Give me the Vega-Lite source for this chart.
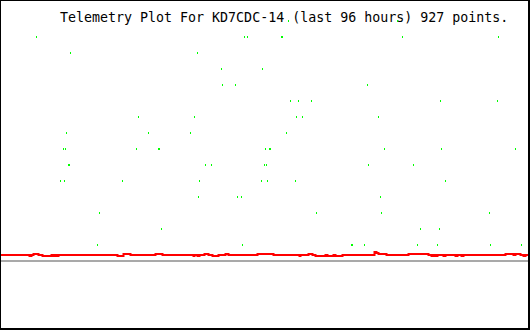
{
  "$schema": "https://vega.github.io/schema/vega-lite/v6.json",
  "width": 530,
  "height": 330,
  "autosize": {"type": "fit", "contains": "padding"},
  "padding": {"left": 1, "top": 1, "right": 2, "bottom": 2},
  "background": "#000000",
  "view": {"fill": "#ffffff", "stroke": null},
  "datasets": {
    "green": [
      {"t": 288, "v": 15}, {"t": 397, "v": 15},
      {"t": 36, "v": 14}, {"t": 244, "v": 14}, {"t": 247, "v": 14}, {"t": 281, "v": 14}, {"t": 282, "v": 14}, {"t": 402, "v": 14}, {"t": 498, "v": 14},
      {"t": 70, "v": 13}, {"t": 197, "v": 13},
      {"t": 221, "v": 12}, {"t": 262, "v": 12},
      {"t": 222, "v": 11}, {"t": 235, "v": 11}, {"t": 367, "v": 11},
      {"t": 290, "v": 10}, {"t": 298, "v": 10}, {"t": 311, "v": 10}, {"t": 440, "v": 10}, {"t": 497, "v": 10},
      {"t": 138, "v": 9}, {"t": 194, "v": 9}, {"t": 296, "v": 9}, {"t": 302, "v": 9}, {"t": 378, "v": 9},
      {"t": 66, "v": 8}, {"t": 148, "v": 8}, {"t": 190, "v": 8}, {"t": 286, "v": 8},
      {"t": 63, "v": 7}, {"t": 65, "v": 7}, {"t": 136, "v": 7}, {"t": 158, "v": 7}, {"t": 159, "v": 7}, {"t": 265, "v": 7}, {"t": 269, "v": 7}, {"t": 270, "v": 7}, {"t": 384, "v": 7}, {"t": 441, "v": 7}, {"t": 515, "v": 7},
      {"t": 68, "v": 6}, {"t": 69, "v": 6}, {"t": 205, "v": 6}, {"t": 211, "v": 6}, {"t": 264, "v": 6}, {"t": 266, "v": 6}, {"t": 368, "v": 6}, {"t": 413, "v": 6},
      {"t": 60, "v": 5}, {"t": 64, "v": 5}, {"t": 122, "v": 5}, {"t": 199, "v": 5}, {"t": 261, "v": 5}, {"t": 267, "v": 5}, {"t": 295, "v": 5}, {"t": 445, "v": 5},
      {"t": 198, "v": 4}, {"t": 237, "v": 4}, {"t": 241, "v": 4}, {"t": 380, "v": 4},
      {"t": 99, "v": 3}, {"t": 316, "v": 3}, {"t": 381, "v": 3}, {"t": 489, "v": 3},
      {"t": 161, "v": 2}, {"t": 420, "v": 2}, {"t": 439, "v": 2},
      {"t": 97, "v": 1}, {"t": 242, "v": 1}, {"t": 351, "v": 1}, {"t": 352, "v": 1}, {"t": 364, "v": 1}, {"t": 417, "v": 1}, {"t": 437, "v": 1}, {"t": 490, "v": 1}, {"t": 521, "v": 1}
    ],
    "red": [
      {"t": 0, "v": 0.375}, {"t": 29, "v": 0.3125}, {"t": 31, "v": 0.375}, {"t": 33, "v": 0.4375}, {"t": 38, "v": 0.375},
      {"t": 42, "v": 0.3125}, {"t": 51, "v": 0.375}, {"t": 53, "v": 0.3125}, {"t": 55, "v": 0.375}, {"t": 57, "v": 0.3125},
      {"t": 58, "v": 0.375}, {"t": 117, "v": 0.3125}, {"t": 123, "v": 0.4375}, {"t": 130, "v": 0.375}, {"t": 155, "v": 0.4375},
      {"t": 162, "v": 0.375}, {"t": 193, "v": 0.3125}, {"t": 194, "v": 0.375}, {"t": 197, "v": 0.3125}, {"t": 199, "v": 0.375},
      {"t": 204, "v": 0.4375}, {"t": 208, "v": 0.375}, {"t": 212, "v": 0.3125}, {"t": 218, "v": 0.375}, {"t": 225, "v": 0.4375},
      {"t": 228, "v": 0.375}, {"t": 257, "v": 0.4375}, {"t": 273, "v": 0.375}, {"t": 299, "v": 0.3125}, {"t": 300, "v": 0.375},
      {"t": 308, "v": 0.4375}, {"t": 312, "v": 0.375}, {"t": 315, "v": 0.3125}, {"t": 325, "v": 0.375}, {"t": 327, "v": 0.3125},
      {"t": 333, "v": 0.375}, {"t": 335, "v": 0.3125}, {"t": 342, "v": 0.375}, {"t": 374, "v": 0.5625}, {"t": 376, "v": 0.5},
      {"t": 378, "v": 0.4375}, {"t": 386, "v": 0.375}, {"t": 408, "v": 0.4375}, {"t": 428, "v": 0.375}, {"t": 431, "v": 0.3125},
      {"t": 433, "v": 0.375}, {"t": 435, "v": 0.3125}, {"t": 437, "v": 0.375}, {"t": 443, "v": 0.3125}, {"t": 445, "v": 0.375},
      {"t": 455, "v": 0.3125}, {"t": 457, "v": 0.375}, {"t": 461, "v": 0.3125}, {"t": 463, "v": 0.375}, {"t": 505, "v": 0.4375},
      {"t": 513, "v": 0.375}, {"t": 515, "v": 0.4375}, {"t": 520, "v": 0.375}, {"t": 523, "v": 0.3125}, {"t": 525, "v": 0.375},
      {"t": 529, "v": 0.375}
    ]
  },
  "layer": [
    {
      "data": {"values": [{}]},
      "mark": {"type": "rule", "color": "#a9a9a9", "strokeWidth": 2, "clip": true},
      "encoding": {
        "y": {"datum": 0, "type": "quantitative", "scale": {"domain": [-4.1875, 16.25], "nice": false, "zero": false}, "axis": null}
      }
    },
    {
      "data": {"name": "red"},
      "mark": {"type": "line", "color": "#ff0000", "strokeWidth": 2, "interpolate": "step-after", "clip": true},
      "encoding": {
        "x": {"field": "t", "type": "quantitative", "scale": {"domain": [0.5, 527.5], "nice": false, "zero": false}, "axis": null},
        "y": {"field": "v", "type": "quantitative", "scale": {"domain": [-4.1875, 16.25], "nice": false, "zero": false}, "axis": null}
      }
    },
    {
      "data": {"values": [{}]},
      "mark": {"type": "text", "align": "left", "baseline": "alphabetic", "font": "DejaVu Sans Mono", "fontSize": 13.3, "color": "#000000", "clip": true},
      "encoding": {
        "x": {"datum": 59.5, "type": "quantitative", "scale": {"domain": [0.5, 527.5], "nice": false, "zero": false}, "axis": null},
        "y": {"datum": 14.9375, "type": "quantitative", "scale": {"domain": [-4.1875, 16.25], "nice": false, "zero": false}, "axis": null},
        "text": {"value": "Telemetry Plot For KD7CDC-14 (last 96 hours) 927 points."}
      }
    },
    {
      "data": {"name": "green"},
      "mark": {"type": "tick", "orient": "vertical", "thickness": 1, "size": 2, "color": "#00ff00", "opacity": 1, "clip": true},
      "encoding": {
        "x": {"field": "t", "type": "quantitative", "scale": {"domain": [0.5, 527.5], "nice": false, "zero": false}, "axis": null},
        "y": {"field": "v", "type": "quantitative", "scale": {"domain": [-4.1875, 16.25], "nice": false, "zero": false}, "axis": null}
      }
    }
  ]
}
